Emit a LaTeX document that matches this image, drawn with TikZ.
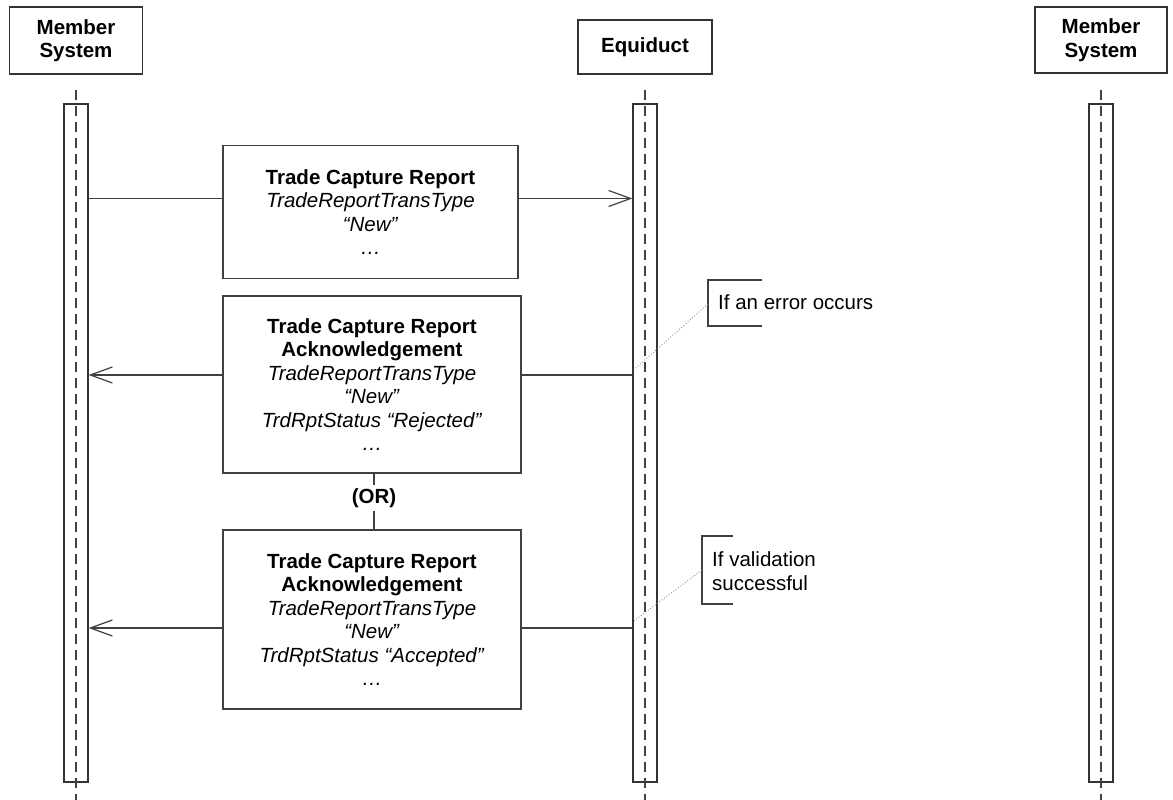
\documentclass[tikz,border=0pt]{standalone}
\usepackage{fontspec}
\setmainfont{Liberation Sans}
\usetikzlibrary{positioning, arrows.meta}

\begin{document}
\begin{tikzpicture}[
    x=1pt, y=-1pt,
    txt/.style={font=\fontsize{20.5}{23.5}\selectfont},
    head/.style={txt, draw=black!80, line width=1.2pt, align=center, inner sep=0pt, font=\fontsize{20.5}{23.5}\selectfont\bfseries},
    actbar/.style={draw=black!80, line width=1.2pt, minimum width=24pt, minimum height=678pt, inner sep=0pt},
    life/.style={black!75, line width=1.1pt, dash pattern=on 10pt off 6pt},
    msgbox/.style={txt, draw=black!75, line width=1.2pt, fill=white, align=center, inner sep=0pt},
    msg/.style={black!75, line width=1.1pt, -{Straight Barb[length=22pt, width=16pt, line width=1.2pt]}},
    notebr/.style={black!75, line width=1.1pt},
    link/.style={black!45, line width=0.9pt, dotted}
]

\useasboundingbox (0,0) rectangle (1173,800);

% Heads of the three lifelines
\node[head, minimum width=133pt, minimum height=67pt] (hL) at (76,40.5) {Member\\System};
\node[head, minimum width=134pt, minimum height=54pt] (hE) at (645,47) {Equiduct};
\node[head, minimum width=132pt, minimum height=66pt] (hR) at (1101,40) {Member\\System};

% Activation bars and dashed lifelines
\node[actbar] (barL) at (76,443) {};
\node[actbar] (barE) at (645,443) {};
\node[actbar] (barR) at (1101,443) {};
\foreach \b in {barL, barE, barR}
    \draw[life] ([yshift=13pt]\b.north) -- ([yshift=-18pt]\b.south);

% Heights of the messages
\coordinate (y1) at (0,198.5);
\coordinate (y2) at (0,375);
\coordinate (y3) at (0,628);

% Message arrows (boxes are drawn on top of them)
\draw[msg] (barL.east |- y1) -- (barE.west |- y1);
\draw[msg] (barE.west |- y2) -- (barL.east |- y2);
\draw[msg] (barE.west |- y3) -- (barL.east |- y3);

% Message boxes
\node[msgbox, minimum width=295pt, minimum height=133pt] (m1) at (370.5,212)
    {\textbf{Trade Capture Report}\\\textit{TradeReportTransType}\\\textit{“New”}\\\textit{…}};
\node[msgbox, minimum width=298pt, minimum height=177pt] (m2) at (372,384.5)
    {\textbf{Trade Capture Report}\\\textbf{Acknowledgement}\\\textit{TradeReportTransType}\\\textit{“New”}\\\textit{TrdRptStatus “Rejected”}\\\textit{…}};
\node[msgbox, minimum width=298pt, minimum height=179pt] (m3) at (372,619.5)
    {\textbf{Trade Capture Report}\\\textbf{Acknowledgement}\\\textit{TradeReportTransType}\\\textit{“New”}\\\textit{TrdRptStatus “Accepted”}\\\textit{…}};

% Alternative between the two answers
\node[txt, font=\fontsize{20.5}{23.5}\selectfont\bfseries, inner sep=3pt] (or) at (374,498) {(OR)};
\draw[notebr] (m2.south -| or) -- (or.north);
\draw[notebr] (or.south) -- (m3.north -| or);

% Notes
\draw[notebr] (762,280) -| (708,326) -- (762,326);
\node[txt, anchor=west, inner sep=0pt] (n1) at (718,302) {If an error occurs};
\coordinate (n1a) at (708,304);
\draw[link] (n1a) -- ([yshift=4pt]barE.west |- y2);

\draw[notebr] (733,536) -| (702,604) -- (733,604);
\node[txt, anchor=west, align=left, inner sep=0pt] (n2) at (712,571) {If validation\\successful};
\coordinate (n2a) at (702,570);
\draw[link] (n2a) -- ([yshift=6pt]barE.west |- y3);

\end{tikzpicture}
\end{document}
